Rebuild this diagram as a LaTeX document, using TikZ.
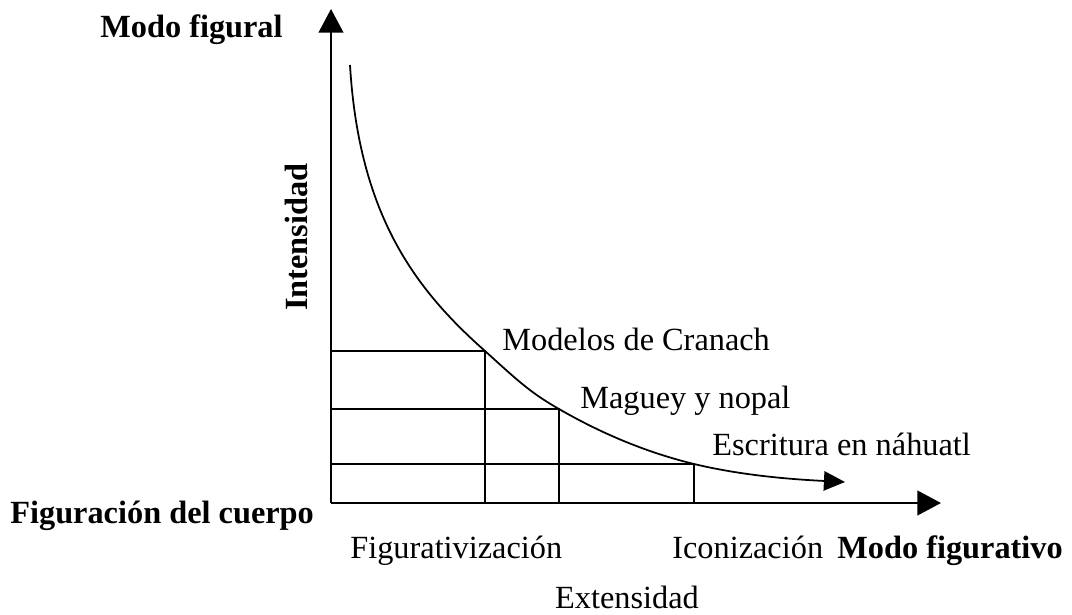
\documentclass[tikz,border=0pt]{standalone}
\usepackage{fontspec}
\setmainfont{Liberation Serif}
\usetikzlibrary{arrows.meta}
\newcommand{\axiswidth}{1.5pt}
\newcommand{\labelfont}{\fontsize{18.4}{20}\selectfont}

\begin{document}
\begin{tikzpicture}[x=0.02cm,y=-0.02cm]
    \useasboundingbox (0,0) rectangle (1072,615);
    \coordinate (o) at (331,503);
    \coordinate (ytop) at (331,9);
    \coordinate (xend) at (941,503);
    % points on the curve
    \coordinate (top) at (350,65);
    \coordinate (cran) at (485,351);
    \coordinate (mag) at (559,409);
    \coordinate (nah) at (694,464);
    \coordinate (tail) at (845,482);

    \begin{scope}[line width=\axiswidth,
        >={Triangle[length=13.5pt,width=14pt]}]
        \draw [->] (o) -- (ytop);
        \draw [->] (o) -- (xend);
    \end{scope}

    \begin{scope}[line width=1.1pt]
        \draw (o |- cran) -- (cran) -- (cran |- o);
        \draw (o |- mag) -- (mag) -- (mag |- o);
        \draw (o |- nah) -- (nah) -- (nah |- o);
    \end{scope}

    \draw [line width=1pt, -{Triangle[length=12pt,width=11pt]}] (top)
        .. controls (359,215) and (415,289) .. (cran)
        .. controls (515,378) and (529,392) .. (mag)
        .. controls (604,435) and (649,453) .. (nah)
        .. controls (744,476) and (795,479.5) .. (tail);

    \begin{scope}[every node/.style={inner sep=0pt,anchor=base west,font=\labelfont}]
        \node (cranlbl) at (502,350) {Modelos de Cranach};
        \node (maglbl) at (580,408) {Maguey y nopal};
        \node (nahlbl) at (712,455) {Escritura en náhuatl};
        \node (figural) at (100,38) {\bfseries Modo figural};
        \node (cuerpo) at (10,523) {\bfseries Figuración del cuerpo};
        \node (figtiv) at (350,558) {Figurativización};
        \node (icon) at (672,558) {Iconización};
        \node (figurativo) at (837,558) {\bfseries Modo figurativo};
        \node [anchor=base] (ext) at (627,608) {Extensidad};
        \node [anchor=base,rotate=90] (int) at (307,237) {\bfseries Intensidad};
    \end{scope}
\end{tikzpicture}
\end{document}
